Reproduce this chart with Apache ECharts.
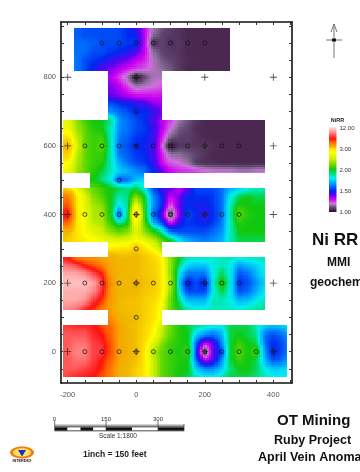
<!DOCTYPE html>
<html><head><meta charset="utf-8">
<script src="https://cdn.jsdelivr.net/npm/echarts@6/dist/echarts.min.js"></script>
<style>html,body{margin:0;padding:0;background:#fff;overflow:hidden}#c{width:360px;height:472px;filter:blur(0.5px)}</style>
</head><body><div id="c"></div>
<script>
const xTickValues=[-200,-150,-100,-50,0,50,100,150,200,250,300,350,400,450];
const yTickValues=[-50,0,50,100,150,200,250,300,350,400,450,500,550,600,650,700,750,800,850,900,950];
const xLabelValues=[-200,0,200,400];
const yLabelValues=[0,200,400,600,800];
const legendLabels=['12.00','3.00','2.00','1.50','1.00'];
const legendValues=[12,3,2,1.5,1];

const y950=[1.6,1.55,1.55,1.55,1.55,1.55,1.5,1.45,1.3,1.18,1.12,1.09,1.07,1.05,1.05,1.05,1.05,1.05,1.05];
const y925=[1.58,1.55,1.55,1.55,1.55,1.55,1.5,1.48,1.3,1.15,1.1,1.08,1.07,1.05,1.05,1.05,1.05,1.05,1.05];
const y900=[1.6,1.6,1.58,1.55,1.55,1.55,1.52,1.52,1.3,1.05,1.1,1.06,1.08,1.05,1.05,1.05,1.05,1.05,1.05];
const y875=[1.6,1.6,1.55,1.55,1.52,1.5,1.47,1.42,1.3,1.15,1.1,1.08,1.07,1.05,1.05,1.05,1.05,1.05,1.05];
const y850=[1.62,1.55,1.52,1.5,1.45,1.42,1.38,1.32,1.27,1.18,1.12,1.1,1.08,1.06,1.05,1.05,1.05,1.05,1.05];
const y825=[1.62,1.55,1.48,1.42,1.38,1.33,1.28,1.25,1.22,1.18,1.15,1.12,1.08,1.05,1.05,1.05,1.05,1.05,1.05];
const y800=[1.32,1.25,1.15,1.0,1.1,1.17,1.18];
const y775=[1.38,1.32,1.24,1.16,1.18,1.2,1.22];
const y750=[1.38,1.35,1.3,1.27,1.27,1.27,1.28];
const y725=[1.55,1.5,1.48,1.45,1.42,1.36,1.33];
const y700=[1.65,1.6,1.55,1.5,1.5,1.45,1.38];
const y675=[2.7,2.65,2.35,2.1,2.0,2.0,1.9,1.65,1.6,1.55,1.5,1.42,1.33,1.25,1.17,1.12,1.08,1.05,1.05,1.05,1.05,1.05,1.05,1.05,1.05];
const y650=[2.7,2.7,2.4,2.2,2.05,2.0,1.85,1.65,1.6,1.55,1.52,1.45,1.32,1.2,1.12,1.1,1.06,1.05,1.05,1.05,1.05,1.05,1.05,1.05,1.05];
const y625=[3.0,3.0,2.5,2.2,2.1,2.1,1.85,1.62,1.58,1.52,1.5,1.45,1.28,1.13,1.1,1.09,1.07,1.05,1.05,1.05,1.05,1.05,1.05,1.05,1.05];
const y600=[3.5,3.6,2.6,2.2,2.1,2.2,1.85,1.6,1.55,1.5,1.48,1.45,1.22,1.0,1.07,1.08,1.07,1.08,1.06,1.05,1.05,1.05,1.05,1.05,1.05];
const y575=[3.2,3.2,2.5,2.2,2.1,2.1,1.85,1.62,1.57,1.52,1.5,1.42,1.28,1.15,1.15,1.12,1.1,1.07,1.05,1.05,1.05,1.05,1.05,1.05,1.05];
const y550=[2.8,2.8,2.45,2.2,2.1,2.05,1.85,1.7,1.6,1.55,1.52,1.45,1.3,1.22,1.2,1.16,1.08,1.06,1.06,1.05,1.05,1.05,1.05,1.05,1.05];
const y525=[2.7,2.7,2.4,2.2,2.05,1.95,1.85,1.75,1.7,1.65,1.6,1.5,1.4,1.3,1.27,1.26,1.25,1.22,1.2,1.2,1.2,1.18,1.18,1.2,1.2];
const y500=[2.0,2.0,1.9,1.8,1.55,1.6,1.72,1.78];
const y475=[3.5,3.0,2.7,2.4,2.2,2.1,2.0,1.95,1.9,1.95,1.8,1.55,1.45,1.4,1.3,1.4,1.55,1.55,1.55,1.6,1.7,1.75,1.8,1.85,1.85];
const y450=[5,5,3.0,2.6,2.3,2.15,2.0,1.85,1.9,2.3,1.95,1.65,1.5,1.3,1.38,1.5,1.5,1.5,1.52,1.6,1.8,1.95,2.0,1.95,1.95];
const y425=[6,6,3.0,2.6,2.4,2.3,2.0,1.75,1.9,2.8,2.0,1.65,1.5,1.2,1.4,1.5,1.48,1.48,1.52,1.6,1.85,2.05,2.0,2.0,2.0];
const y400=[7,7.5,3.0,2.7,2.4,2.4,2.0,1.55,1.95,3.2,2.0,1.6,1.4,1.05,1.35,1.55,1.5,1.45,1.5,1.6,1.85,2.2,2.05,2.0,2.0];
const y375=[5.5,5.5,3.0,2.7,2.45,2.4,2.1,1.85,2.0,2.8,2.1,1.7,1.55,1.28,1.45,1.52,1.5,1.48,1.52,1.62,1.85,2.05,2.0,2.0,2.0];
const y350=[3.5,3.6,3,2.75,2.6,2.5,2.3,2.2,2.3,2.6,2.3,2.05,1.85,1.6,1.55,1.55,1.55,1.55,1.6,1.65,1.85,2.0,2.0,2,2];
const y325=[3.5,3.2,3,2.9,2.8,2.7,2.6,2.55,2.6,2.75,2.6,2.45,2.15,1.95,1.8,1.7,1.65,1.62,1.65,1.7,1.85,1.95,1.95,1.95,1.95];
const y300=[2.9,2.9,3,3.0,3.3,3,2.75,2.4,2.2];
const y275=[7,7,5,4.5,4.5,4.0,3.8,3.5,3.5,3.5,3.3,3.1,2.8,2.3,2.0,1.85,1.85,1.85,1.82,1.85,1.85,1.82,1.85,1.85,1.85];
const y250=[9.5,9,8.5,7,6,5,3.9,3.6,3.5,3.5,3.3,3.2,2.9,2.3,1.9,1.75,1.72,1.72,1.82,1.85,1.8,1.65,1.7,1.75,1.82];
const y225=[10.5,10.5,10.5,10,8.5,7,4,3.6,3.5,3.5,3.3,3.2,2.9,2.3,1.8,1.6,1.6,1.6,1.8,1.95,1.8,1.55,1.6,1.7,1.8];
const y200=[11,11,11,11,10.5,8,4.5,3.5,3.5,3.6,3.4,3.3,2.9,2.4,1.75,1.45,1.55,1.45,1.8,2.1,1.8,1.5,1.55,1.65,1.75];
const y175=[10.5,10.5,10.5,10.5,9.5,7.5,4.2,3.6,3.5,3.5,3.3,3.2,2.9,2.3,1.8,1.55,1.55,1.55,1.8,1.95,1.8,1.55,1.6,1.7,1.8];
const y150=[10.5,10.5,10.5,10,8,6.5,4.2,3.5,3.4,3.4,3.2,3.1,2.8,2.2,1.9,1.7,1.7,1.7,1.85,1.85,1.8,1.7,1.72,1.78,1.85];
const y125=[9.5,9.5,9,7.5,6.5,5,4,3.5,3.4,3.4,3.2,3,2.7,2.2,2,1.85,1.82,1.82,1.85,1.85,1.85,1.82,1.85,1.88,1.9];
const y100=[5,4.5,3.6,3.5,3.5,3.2,3,2.7,2.4];
const y75=[7.8,7.8,7.5,7.5,7.2,6,5.3,4,3.5,3.4,3.1,2.9,2.5,2.2,2.05,1.95,1.9,1.85,1.82,1.8,1.95,1.95,1.95,1.85,1.75,1.72,1.75,1.8];
const y50=[8.5,8.5,8.5,8.5,7.5,7,5.5,4,3.6,3.4,3.1,2.8,2.45,2.2,2.05,2,1.75,1.65,1.6,1.7,1.95,2.0,1.95,1.9,1.6,1.55,1.6,1.7];
const y25=[8.5,8.5,9,9,8,7.5,5.8,4,3.6,3.4,3,2.6,2.3,2.1,2.05,2,1.6,1.3,1.4,1.65,1.95,2.1,2.0,1.95,1.6,1.5,1.55,1.65];
const y0=[8.5,8.5,9.5,9.5,8,8,6,4,3.7,3.5,2.9,2.4,2.2,2.1,2,2.1,1.55,1.02,1.4,1.55,1.95,2.2,2.0,2.15,1.65,1.48,1.55,1.65];
const ym25=[8.5,8.5,9,9,8,7,5.5,4,3.6,3.4,2.9,2.5,2.2,2.1,2.05,2,1.6,1.3,1.4,1.65,1.95,2.1,2,1.95,1.7,1.55,1.6,1.7];
const ym50=[8.5,8.5,8.5,8,7.5,6.5,5,3.8,3.5,3.2,2.9,2.5,2.2,2.1,2,2,1.75,1.65,1.65,1.75,1.9,2,2,1.95,1.8,1.75,1.75,1.8];
const ym75=[8.5,8,7.5,7.2,7,6,5,3.8,3.5,3.2,2.9,2.5,2.2,2.1,2,1.95,1.85,1.8,1.8,1.85,1.95,1.95,1.95,1.9,1.85,1.8,1.8,1.8];

// [northing, first easting, values]
const fieldRows=[[950,-175,y950],[925,-175,y925],[900,-175,y900],[875,-175,y875],[850,-175,y850],[825,-175,y825],
[800,-75,y800],[775,-75,y775],[750,-75,y750],[725,-75,y725],[700,-75,y700],
[675,-225,y675],[650,-225,y650],[625,-225,y625],[600,-225,y600],[575,-225,y575],[550,-225,y550],[525,-225,y525],
[500,-150,y500],
[475,-225,y475],[450,-225,y450],[425,-225,y425],[400,-225,y400],[375,-225,y375],[350,-225,y350],[325,-225,y325],
[300,-100,y300],
[275,-225,y275],[250,-225,y250],[225,-225,y225],[200,-225,y200],[175,-225,y175],[150,-225,y150],[125,-225,y125],
[100,-100,y100],
[75,-225,y75],[50,-225,y50],[25,-225,y25],[0,-225,y0],[-25,-225,ym25],[-50,-225,ym50],[-75,-225,ym75]];

// survey blocks: [xMin,xMax,yMin,yMax]
const bands=[[-183,274,819,944],[-82,75,675,819],[-214,376,522,675],[-134,22,476,522],[-214,376,320,476],
[-82,75,277,320],[-214,376,121,277],[-82,75,78,121],[-214,440,-75,78]];

const circlePoints=[[-100,900],[-50,900],[0,900],[50,900],[100,900],[150,900],[200,900],[0,800],[0,700],
[-150,600],[-100,600],[-50,600],[0,600],[50,600],[100,600],[150,600],[200,600],[250,600],[300,600],[-50,500],
[-150,400],[-100,400],[-50,400],[0,400],[50,400],[100,400],[150,400],[200,400],[250,400],[300,400],[0,300],
[-150,200],[-100,200],[-50,200],[0,200],[50,200],[100,200],[150,200],[200,200],[250,200],[300,200],[0,100],
[-150,0],[-100,0],[-50,0],[0,0],[50,0],[100,0],[150,0],[200,0],[250,0],[300,0],[350,0],[400,0]];
const plusPoints=[[-200,800],[0,800],[200,800],[400,800],[-200,600],[0,600],[200,600],[400,600],[-200,400],[0,400],[200,400],[400,400],
[-200,200],[0,200],[200,200],[400,200],[-200,0],[0,0],[200,0],[400,0]];

const colorStops=[[1,'#1c1020'],[1.05,'#4a2850'],[1.1,'#5f4470'],[1.15,'#8a7098'],[1.2,'#d070e0'],[1.3,'#d000f0'],[1.4,'#6000f0'],[1.5,'#0028f0'],
[1.65,'#0090ff'],[1.8,'#00f0f0'],[1.9,'#00e080'],[2,'#10c810'],[2.2,'#60d800'],[2.5,'#d0f000'],[2.8,'#ffff00'],[3,'#ffe000'],[3.5,'#f0b800'],
[4.5,'#ff9000'],[6,'#ff5000'],[7,'#ff1010'],[9,'#ff7070'],[12,'#ffe8e8']];

function rgb(h){return [1,3,5].map(i=>parseInt(h.substr(i,2),16));}
function colorOf(v){
  if(v<=colorStops[0][0])return colorStops[0][1];
  for(let i=1;i<colorStops.length;i++){
    if(v<=colorStops[i][0]){
      const a=colorStops[i-1],b=colorStops[i],t=(v-a[0])/(b[0]-a[0]),A=rgb(a[1]),B=rgb(b[1]);
      return 'rgb('+A.map((c,k)=>Math.round(c+(B[k]-c)*t)).join(',')+')';
    }
  }
  return colorStops[colorStops.length-1][1];
}
const rowByY={};fieldRows.forEach(r=>rowByY[r[0]]=r);
function at(x,y){const r=rowByY[y];if(!r)return null;const v=r[2][Math.round((x-r[1])/25)];return v===undefined?null:v;}
function sample(x,y){
  const x0=Math.floor((x+225)/25)*25-225,y0=Math.floor((y+75)/25)*25-75;
  const fx=(x-x0)/25,fy=(y-y0)/25;
  const nodes=[[x0,y0,(1-fx)*(1-fy)],[x0+25,y0,fx*(1-fy)],[x0,y0+25,(1-fx)*fy],[x0+25,y0+25,fx*fy]];
  let s=0,w=0;
  nodes.forEach(n=>{const v=at(n[0],n[1]);if(v!==null){s+=v*n[2];w+=n[2];}});
  return w>0?s/w:null;
}
const SUB=4;
const cells=[];
for(let x=-225;x<450;x+=25)for(let y=-75;y<950;y+=25)cells.push([x,y]);

function renderCell(params,api){
  const cx=api.value(0),cy=api.value(1),kids=[],st=25/SUB;
  for(let i=0;i<SUB;i++)for(let j=0;j<SUB;j++){
    const x1=cx+i*st,x2=x1+st,y1=cy+j*st,y2=y1+st;
    bands.forEach(b=>{
      const a0=Math.max(x1,b[0]),a1=Math.min(x2,b[1]),c0=Math.max(y1,b[2]),c1=Math.min(y2,b[3]);
      if(a0>=a1||c0>=c1)return;
      const v=sample((a0+a1)/2,(c0+c1)/2);
      if(v===null)return;
      const p=api.coord([a0,c1]),q=api.coord([a1,c0]);
      const px=Math.round(p[0]),py=Math.round(p[1]),w=Math.round(q[0])-px,h=Math.round(q[1])-py;
      if(w<=0||h<=0)return;
      kids.push({type:'rect',shape:{x:px,y:py,width:w,height:h},style:{fill:colorOf(v)}});
    });
  }
  return {type:'group',children:kids};
}

function legendQ(v){
  for(let i=1;i<legendValues.length;i++){
    if(v>=legendValues[i]){
      const a=legendValues[i-1],b=legendValues[i];
      return ((i-1)+(a-v)/(a-b))/(legendValues.length-1);
    }
  }
  return 1;
}

const axisLabelStyle={color:'#555',fontFamily:'Liberation Sans',fontSize:7.5};
const lineStyle={show:true,onZero:false,lineStyle:{color:'#111',width:1.6}};
function xAx(pos,labels){return {type:'value',position:pos,min:-219.5,max:454.5,splitLine:{show:false},axisLine:lineStyle,
  axisTick:{show:true,inside:true,length:3,lineStyle:{color:'#333',width:1},customValues:xTickValues},
  axisLabel:labels?Object.assign({show:true,margin:8,customValues:xLabelValues,formatter:v=>String(v)},axisLabelStyle):{show:false}};}
function yAx(pos,labels){return {type:'value',position:pos,min:-91.3,max:961.2,splitLine:{show:false},axisLine:lineStyle,
  axisTick:{show:true,inside:true,length:3,lineStyle:{color:'#333',width:1},customValues:yTickValues},
  axisLabel:labels?Object.assign({show:true,margin:5,customValues:yLabelValues,formatter:v=>String(v)},axisLabelStyle):{show:false}};}

const legendGrad=colorStops.map(s=>({offset:legendQ(s[0]),color:s[1]})).sort((a,b)=>a.offset-b.offset);
const g=[];
function T(text,x,y,font,fill,align){g.push({type:'text',style:{text,x,y,font,fill:fill||'#111',textAlign:align||'left',textVerticalAlign:'middle',textBaseline:'middle'},z:10});}
function R(x,y,w,h,fill){g.push({type:'rect',shape:{x,y,width:w,height:h},style:{fill},z:10});}
// legend
R(329,127,7.5,85,new echarts.graphic.LinearGradient(0,0,0,1,legendGrad));
T('NiRR',337.5,120,'bold 5.5px "Liberation Sans"','#222','center');
legendLabels.forEach((s,i)=>T(s,339.5,128+i*21,'6px "Liberation Sans"','#333'));
// titles
T('Ni RR',312,240,'bold 17px "Liberation Sans"','#111');
T('MMI',327,263,'bold 12px "Liberation Sans"','#111');
T('geochemistry',310,283,'bold 12px "Liberation Sans"','#111');
T('OT Mining',277,421,'bold 15px "Liberation Sans"','#111');
T('Ruby Project',274,441,'bold 12.5px "Liberation Sans"','#111');
T('April Vein Anomaly',258,458,'bold 12.5px "Liberation Sans"','#111');
// north arrow
function L(x1,y1,x2,y2,c,w){g.push({type:'line',shape:{x1,y1,x2,y2},style:{stroke:c,lineWidth:w},z:10});}
L(334,24,334,58,'#777',1);L(331,32,334,24,'#777',1);L(337,32,334,24,'#777',1);L(326,40,342,40,'#777',1);R(332,38.5,4,3,'#111');
// scale bar
const sx=[54.7,67.5,80.5,93.3,106,132,158,184];
R(54.7,424.5,129.3,2,'#aaa');
R(54.7,426.5,129.3,1,'#111');
sx.slice(0,-1).forEach((x,i)=>{R(x,427.5,sx[i+1]-x,3,i%2?'#fff':'#111');});
R(54.7,430.5,129.3,0.8,'#111');
L(54.7,421,54.7,431,'#333',0.7);L(106,421,106,431,'#333',0.7);L(158,421,158,431,'#333',0.7);L(184,424,184,431,'#333',0.7);
T('0',54.5,419,'6px "Liberation Sans"','#333','center');
T('150',106,419,'6px "Liberation Sans"','#333','center');
T('300',158,419,'6px "Liberation Sans"','#333','center');
T('Scale 1:1800',118,436,'6.5px "Liberation Sans"','#333','center');
T('1inch = 150 feet',83,454.5,'bold 8.5px "Liberation Sans"','#222');
// logo
g.push({type:'ellipse',shape:{cx:22,cy:452.5,rx:12,ry:6},style:{fill:'#f47a10'},z:10});
g.push({type:'ellipse',shape:{cx:22,cy:452.5,rx:9,ry:4.2},style:{fill:'#ffe060'},z:10});
g.push({type:'polygon',shape:{points:[[18,450],[26,450],[22,456.5]]},style:{fill:'#1030d0'},z:10});
T('INTERDEX',22,460.5,'bold 3.8px "Liberation Sans"','#222','center');

const chart=echarts.init(document.getElementById('c'),null,{renderer:'canvas'});
chart.setOption({
  animation:false,backgroundColor:'#fff',
  grid:{left:61,top:22,width:231,height:361,show:false},
  xAxis:[xAx('bottom',true),xAx('top',false)],
  yAxis:[yAx('left',true),yAx('right',false)],
  graphic:g,
  series:[
    {type:'custom',coordinateSystem:'cartesian2d',data:cells,renderItem:renderCell,progressive:0,silent:true,z:2,clip:false,encode:{x:0,y:1}},
    {type:'scatter',data:circlePoints,symbol:'circle',symbolSize:4,silent:true,z:5,itemStyle:{color:'rgba(0,0,0,0)',borderColor:'#111',borderWidth:0.9}},
    {type:'scatter',data:plusPoints,symbol:'path://M-0.12 -1H0.12V-0.12H1V0.12H0.12V1H-0.12V0.12H-1V-0.12H-0.12Z',symbolSize:7,silent:true,z:6,itemStyle:{color:'#222'}}
  ]
});
</script></body></html>
